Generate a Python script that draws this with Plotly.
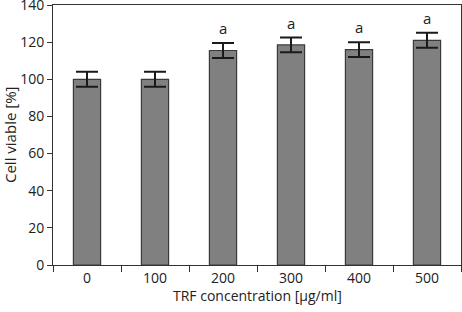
import plotly.graph_objects as go

categories = ["0", "100", "200", "300", "400", "500"]
values = [100, 100, 115.5, 118.5, 116, 121]
errors = [4, 4, 4, 4, 4, 4]
labels = ["", "", "a", "a", "a", "a"]
x_title = "TRF concentration [µg/ml]"
y_title = "Cell viable [%]"

FONT = "Open Sans"

fig = go.Figure()
fig.add_trace(go.Bar(
    x=categories, y=values,
    width=0.4,
    marker=dict(color="#808080", line=dict(color="#3a3a3a", width=1.2)),
    error_y=dict(type="data", array=errors, visible=True, color="#1a1a1a", thickness=2, width=11),
))

for i, (v, e, lab) in enumerate(zip(values, errors, labels)):
    if lab:
        fig.add_annotation(x=i, y=v + e, text=lab, showarrow=False, yanchor="bottom", yshift=3,
                           font=dict(family=FONT, size=15, color="#222"))

fig.add_annotation(xref="paper", yref="paper", x=0.5, y=0, yshift=-19, yanchor="top",
                   text=x_title, showarrow=False, font=dict(family=FONT, size=14, color="#222"))
fig.add_annotation(xref="paper", yref="paper", x=0, xshift=-43, y=0.5, textangle=-90,
                   xanchor="center", yanchor="middle",
                   text=y_title, showarrow=False, font=dict(family=FONT, size=15, color="#222"))

fig.update_layout(
    width=462, height=312,
    margin=dict(l=53, r=1, t=5, b=47),
    plot_bgcolor="white", paper_bgcolor="white",
    showlegend=False,
    font=dict(family=FONT, size=14, color="#222"),
    xaxis=dict(
        type="category",
        range=[-0.5, 5.5],
        automargin=False,
        showline=True, linecolor="#333", linewidth=1, mirror=True,
        ticks="outside", tickson="boundaries", ticklen=6, tickcolor="#333",
        showgrid=False,
    ),
    yaxis=dict(
        range=[0, 140], dtick=20,
        automargin=False,
        ticklabeloverflow="allow",
        showline=True, linecolor="#333", linewidth=1, mirror=True,
        ticks="outside", ticklen=5, tickcolor="#333",
        showgrid=False, zeroline=False,
    ),
)

fig.write_html("out.html", config={"displayModeBar": False},
               post_script="document.body.style.margin='0';")
